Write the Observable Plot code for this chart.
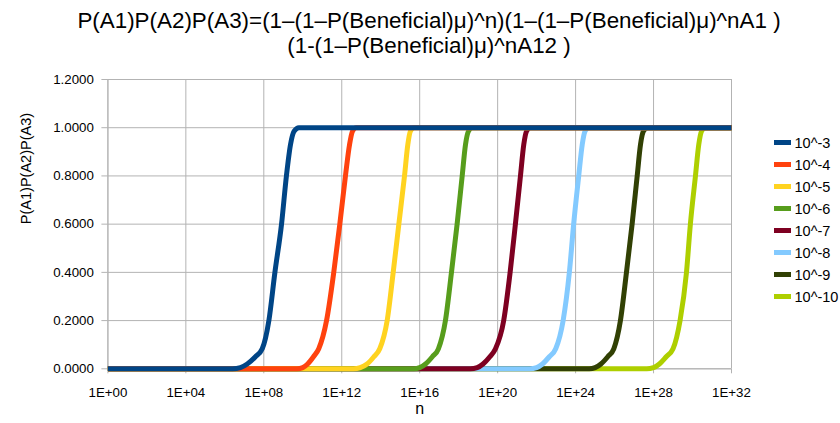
<!DOCTYPE html>
<html>
<head>
<meta charset="utf-8">
<script src="https://cdn.jsdelivr.net/npm/d3@7"></script>
<script src="https://cdn.jsdelivr.net/npm/@observablehq/plot@0.6"></script>
<style>
  html, body { margin: 0; padding: 0; background: #fff; }
  #wrap { position: relative; width: 840px; height: 423px; font-family: "Liberation Sans", Arial, sans-serif; }
  #title { position: absolute; left: 9px; top: 7.5px; width: 840px; text-align: center; font-size: 22.4px; line-height: 25.5px; color: #000; white-space: nowrap; }
  #legend { position: absolute; left: 774px; top: 131.5px; font-size: 14.5px; color: #000; }
  .item { height: 22px; display: flex; align-items: center; }
  .sw { width: 17px; height: 5px; margin-right: 3.5px; }
  svg { position: absolute; left: 0; top: 0; }
</style>
</head>
<body>
<div id="wrap">
  <div id="title">P(A1)P(A2)P(A3)=(1–(1–P(Beneficial)μ)^n)(1–(1–P(Beneficial)μ)^nA1 )<br>(1-(1–P(Beneficial)μ)^nA12 )</div>
  <div id="legend"></div>
</div>
<script>
// Series labels and colours
const categories = ["10^-3", "10^-4", "10^-5", "10^-6", "10^-7", "10^-8", "10^-9", "10^-10"];
const colors = ["#004586", "#ff420e", "#ffd320", "#579d1c", "#7e0021", "#83caff", "#314004", "#aecf00"];

// x values are log10(n); y values are P(A1)P(A2)P(A3)
const x_e3  = [0, 6.4, 6.8, 7.15, 7.57, 7.92, 8.26, 8.57, 8.91, 9.16, 9.37, 9.55, 9.8, 32];
const y_e3  = [0, 0, 0.005, 0.02, 0.05, 0.083, 0.2, 0.4, 0.6, 0.8, 0.93, 0.985, 1, 1];
const x_e4  = [0, 9.7, 10.0, 10.25, 10.55, 10.82, 11.22, 11.59, 11.9, 12.19, 12.4, 12.55, 12.75, 32];
const y_e4  = [0, 0, 0.005, 0.02, 0.05, 0.083, 0.2, 0.4, 0.6, 0.8, 0.93, 0.985, 1, 1];
const x_e5  = [0, 12.6, 12.95, 13.3, 13.65, 13.95, 14.33, 14.64, 14.93, 15.22, 15.39, 15.52, 15.72, 32];
const y_e5  = [0, 0, 0.005, 0.02, 0.05, 0.083, 0.2, 0.4, 0.6, 0.8, 0.93, 0.985, 1, 1];
const x_e6  = [0, 15.7, 16.0, 16.3, 16.65, 16.96, 17.32, 17.63, 17.92, 18.18, 18.35, 18.5, 18.7, 32];
const y_e6  = [0, 0, 0.005, 0.02, 0.05, 0.083, 0.2, 0.4, 0.6, 0.8, 0.93, 0.985, 1, 1];
const x_e7  = [0, 18.6, 18.95, 19.25, 19.6, 19.89, 20.31, 20.64, 20.91, 21.17, 21.34, 21.48, 21.68, 32];
const y_e7  = [0, 0, 0.005, 0.02, 0.05, 0.083, 0.2, 0.4, 0.6, 0.8, 0.93, 0.985, 1, 1];
const x_e8  = [0, 21.65, 22.0, 22.3, 22.65, 22.98, 23.36, 23.68, 23.9, 24.16, 24.34, 24.48, 24.67, 32];
const y_e8  = [0, 0, 0.005, 0.02, 0.05, 0.083, 0.2, 0.4, 0.6, 0.8, 0.93, 0.985, 1, 1];
const x_e9  = [0, 24.7, 25.0, 25.3, 25.65, 25.96, 26.3, 26.61, 26.9, 27.16, 27.33, 27.48, 27.7, 32];
const y_e9  = [0, 0, 0.005, 0.02, 0.05, 0.083, 0.2, 0.4, 0.6, 0.8, 0.93, 0.985, 1, 1];
const x_e10 = [0, 27.65, 28.0, 28.3, 28.65, 29.0, 29.36, 29.69, 29.89, 30.15, 30.32, 30.46, 30.66, 32];
const y_e10 = [0, 0, 0.005, 0.02, 0.05, 0.083, 0.2, 0.4, 0.6, 0.8, 0.93, 0.985, 1, 1];

const xTickExponents = [0, 4, 8, 12, 16, 20, 24, 28, 32];
const xTickLabels = ["1E+00", "1E+04", "1E+08", "1E+12", "1E+16", "1E+20", "1E+24", "1E+28", "1E+32"];
const yTicks = [0, 0.2, 0.4, 0.6, 0.8, 1.0, 1.2];

const xs = [x_e3, x_e4, x_e5, x_e6, x_e7, x_e8, x_e9, x_e10];
const ys = [y_e3, y_e4, y_e5, y_e6, y_e7, y_e8, y_e9, y_e10];

const rows = [];
categories.forEach((c, i) => {
  xs[i].forEach((e, j) => rows.push({series: c, idx: i, n: Math.pow(10, e), p: ys[i][j]}));
});

const xTicks = xTickExponents.map(e => Math.pow(10, e));
const tickLabel = new Map(xTicks.map((t, i) => [t, xTickLabels[i]]));
const grid = "#b3b3b3";

// draw last series first so 10^-3 ends on top
const lineMarks = categories.slice().reverse().map(c => {
  const i = categories.indexOf(c);
  return Plot.line(rows.filter(r => r.series === c), {
    x: "n", y: "p", stroke: colors[i], strokeWidth: 5, curve: "monotone-x", strokeLinecap: "butt"
  });
});

const chart = Plot.plot({
  width: 840,
  height: 423,
  marginLeft: 107.4,
  marginRight: 109,
  marginTop: 79,
  marginBottom: 54.7,
  style: {fontFamily: "'Liberation Sans', Arial, sans-serif", fontSize: "13.3px", color: "#000", background: "transparent"},
  x: {type: "log", domain: [1, 1e32]},
  y: {domain: [0, 1.2]},
  marks: [
    Plot.gridX(xTicks, {stroke: grid, strokeOpacity: 1}),
    Plot.gridY(yTicks, {stroke: grid, strokeOpacity: 1}),
    Plot.ruleX([1], {stroke: grid}),
    Plot.ruleY([0], {stroke: grid}),
    Plot.axisX(xTicks, {tickSize: 5, tickPadding: 14, stroke: grid, tickFormat: d => tickLabel.get(d), fill: "#000", label: null, fontSize: 13.3}),
    Plot.axisY(yTicks, {tickSize: 6, tickPadding: 8, stroke: grid, tickFormat: d3.format(".4f"), fill: "#000", label: null, fontSize: 13.3}),
    ...lineMarks,
    Plot.text(["P(A1)P(A2)P(A3)"], {frameAnchor: "left", dx: -82, rotate: -90, fontSize: 14.5, fill: "#000"}),
    Plot.text(["n"], {frameAnchor: "bottom", dy: 45.5, fontSize: 16, fill: "#000"})
  ]
});
document.getElementById("wrap").prepend(chart);

const legend = document.getElementById("legend");
categories.forEach((c, i) => {
  const d = document.createElement("div");
  d.className = "item";
  d.innerHTML = `<span class="sw" style="background:${colors[i]}"></span><span>${c}</span>`;
  legend.appendChild(d);
});
</script>
</body>
</html>
